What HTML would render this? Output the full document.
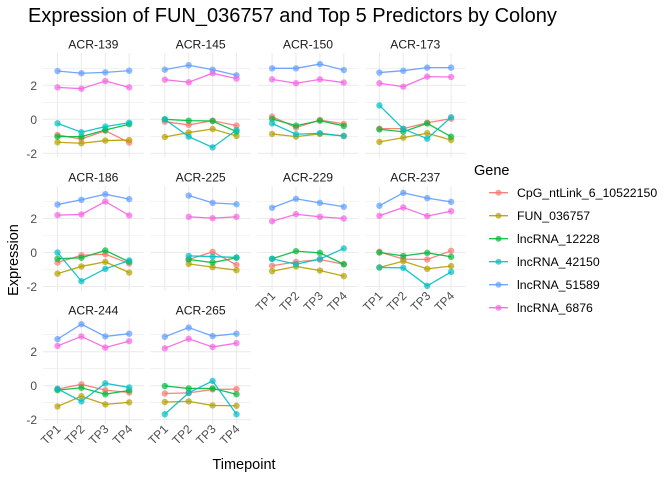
<!DOCTYPE html>
<html><head><meta charset="utf-8"><style>
html,body{margin:0;padding:0;background:#fff;}
svg{display:block;font-family:"Liberation Sans",sans-serif;}
</style></head><body>
<svg id="s" width="672" height="480" xmlns="http://www.w3.org/2000/svg"></svg>
<script>
const cols=["#F8766D","#B79F00","#00BA38","#00BFC4","#619CFF","#F564E3"];
const names=["CpG_ntLink_6_10522150","FUN_036757","lncRNA_12228","lncRNA_42150","lncRNA_51589","lncRNA_6876"];
const D={
"ACR-139":[[-0.92,-1.16,-0.67,-1.37],[-1.35,-1.41,-1.25,-1.22],[-1.02,-1.02,-0.63,-0.29],[-0.24,-0.76,-0.43,-0.2],[2.84,2.71,2.76,2.86],[1.88,1.80,2.25,1.88]],
"ACR-145":[[-0.14,-0.33,-0.08,-0.37],[-1.04,-0.78,-0.57,-0.98],[0,-0.08,-0.1,-0.73],[0,-1.02,-1.65,-0.63],[2.92,3.18,2.92,2.59],[2.33,2.18,2.71,2.39]],
"ACR-150":[[0.16,-0.49,-0.04,-0.27],[-0.86,-1.02,-0.86,-0.98],[0.02,-0.37,-0.08,-0.39],[-0.24,-0.88,-0.82,-0.98],[3.0,3.0,3.25,2.9],[2.35,2.12,2.35,2.16]],
"ACR-173":[[-0.55,-0.55,-0.2,0.04],[-1.33,-1.08,-0.82,-1.22],[-0.59,-0.73,-0.24,-1.02],[0.82,-0.57,-1.14,0.12],[2.75,2.86,3.04,3.04],[2.12,1.92,2.51,2.49]],
"ACR-186":[[-0.59,-0.16,-0.1,-0.65],[-1.24,-0.82,-0.55,-1.18],[-0.37,-0.31,0.12,-0.55],[0,-1.69,-0.96,-0.47],[2.82,3.1,3.43,3.14],[2.2,2.24,3.0,2.18]],
"ACR-225":[[null,-0.41,0.04,-0.73],[null,-0.67,-0.86,-1.04],[null,-0.41,-0.59,-0.31],[null,-0.2,-0.24,-0.29],[null,3.35,2.92,2.84],[null,2.1,2.02,2.1]],
"ACR-229":[[-0.78,-0.55,-0.41,-0.69],[-1.1,-0.82,-1.06,-1.39],[-0.37,0.08,-0.02,-0.69],[-0.37,-0.69,-0.39,0.24],[2.63,3.16,2.92,2.69],[1.84,2.25,2.1,2.0]],
"ACR-237":[[0.04,-0.39,-0.41,0.1],[-0.88,-0.51,-0.96,-0.8],[0,-0.2,-0.02,-0.25],[-0.88,-0.9,-1.96,-1.14],[2.75,3.51,3.2,2.98],[2.16,2.65,2.14,2.43]],
"ACR-244":[[-0.2,0.08,-0.26,-0.4],[-1.22,-0.62,-1.1,-0.98],[-0.26,-0.12,-0.5,-0.28],[-0.18,-0.92,0.14,-0.1],[2.74,3.62,2.9,3.06],[2.34,2.9,2.24,2.62]],
"ACR-265":[[-0.46,-0.42,-0.22,-0.2],[-0.96,-0.92,-1.16,-1.18],[-0.02,-0.16,-0.16,-0.5],[-1.68,-0.42,0.28,-1.68],[2.88,3.42,2.92,3.06],[2.2,2.76,2.28,2.5]]
};
let h='';
h+='<text x="28" y="22" font-size="20" fill="#000">Expression of FUN_036757 and Top 5 Predictors by Colony</text>';
const keys=Object.keys(D);
const zeros=[119.3,252.5,385.7], U=17;
keys.forEach((k,i)=>{
  const r=Math.floor(i/4),c=i%4;
  const x0=57.5+107.3*c, z=zeros[r];
  const L=x0-14.5,R=x0+3*23.9+14.5,T=z-3.9*U,B=z+2.24*U;
  h+=`<text x="${(L+R)/2}" y="${z-71}" font-size="12.2" text-anchor="middle" fill="#1a1a1a">${k}</text>`;
  for(let v=-2;v<=3;v++){const y=z-v*U;h+=`<line x1="${L}" x2="${R}" y1="${y}" y2="${y}" stroke="#ebebeb" stroke-width="${v%2==0?1.1:0.6}"/>`;}
  for(let t=0;t<4;t++){const x=x0+t*23.9;h+=`<line x1="${x}" x2="${x}" y1="${T}" y2="${B}" stroke="#ebebeb" stroke-width="1.1"/>`;}
  if(c==0){[2,0,-2].forEach(v=>{h+=`<text x="37" y="${z-v*U+4.5}" font-size="12" text-anchor="end" fill="#4d4d4d">${v}</text>`;});}
  if(r==2||(r==1&&c>=2)){
    for(let t=0;t<4;t++){const x=x0+t*23.9;h+=`<text transform="translate(${x+4},${B+6}) rotate(-45)" font-size="12" text-anchor="end" fill="#4d4d4d">TP${t+1}</text>`;}
  }
  D[k].forEach((s,g)=>{
    let pts=[];s.forEach((v,t)=>{if(v!==null)pts.push([x0+t*23.9,z-v*U]);});
    h+=`<polyline points="${pts.map(p=>p.join(',')).join(' ')}" fill="none" stroke="${cols[g]}" stroke-width="1.3" stroke-opacity="0.9"/>`;
    pts.forEach(p=>{h+=`<circle cx="${p[0]}" cy="${p[1]}" r="3.2" fill="${cols[g]}" fill-opacity="0.7"/>`;});
  });
});
h+='<text x="244" y="469" font-size="14.5" text-anchor="middle" fill="#000">Timepoint</text>';
h+='<text transform="translate(18,260) rotate(-90)" font-size="14.5" text-anchor="middle" fill="#000">Expression</text>';
h+='<text x="474" y="175" font-size="14.5" fill="#000">Gene</text>';
names.forEach((n,g)=>{const y=192.7+g*23;
  h+=`<line x1="489" x2="508" y1="${y}" y2="${y}" stroke="${cols[g]}" stroke-width="1.3" stroke-opacity="0.9"/><circle cx="498.5" cy="${y}" r="3" fill="${cols[g]}" fill-opacity="0.7"/>`;
  h+=`<text x="517" y="${y+4.5}" font-size="12.3" fill="#000">${n}</text>`;});
document.getElementById('s').innerHTML=h;
</script>
</body></html>
